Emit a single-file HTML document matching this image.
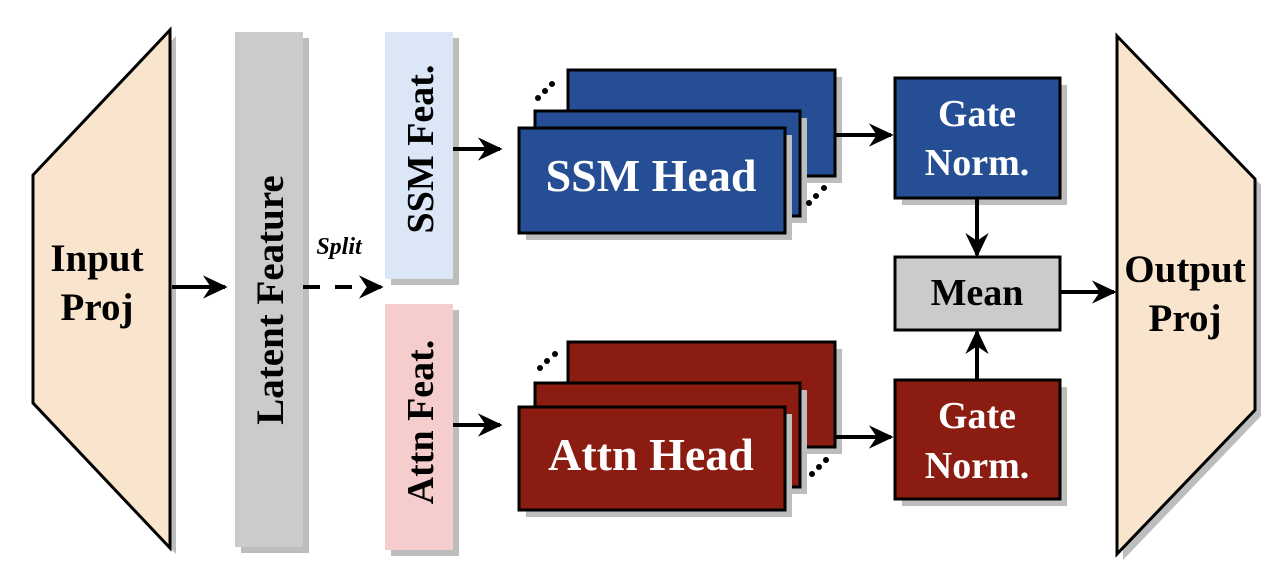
<!DOCTYPE html>
<html><head><meta charset="utf-8"><style>
html,body{margin:0;padding:0;background:#fff;}
svg{display:block;}
text{font-family:"Liberation Serif",serif;font-weight:bold;}
</style></head><body>
<svg width="1278" height="584" viewBox="0 0 1278 584" xmlns="http://www.w3.org/2000/svg">
<defs>
<marker id="ah" viewBox="0 0 20 20" refX="17" refY="10" markerWidth="26" markerHeight="26" markerUnits="userSpaceOnUse" orient="auto">
<path d="M0,1 L19,10 L0,19 L6,10 Z" fill="#000"/>
</marker>
</defs>
<!-- Input Proj -->
<polygon points="39,181 176,36 176,554 39,409" fill="#bdbdbd"/>
<polygon points="33,175 170,30 170,548 33,403" fill="#f9e5cd" stroke="#000" stroke-width="3" stroke-linejoin="miter"/>
<text x="97" y="271" font-size="39" text-anchor="middle">Input</text>
<text x="97" y="320" font-size="39" text-anchor="middle">Proj</text>
<!-- Latent -->
<rect x="241" y="38" width="68" height="515" fill="#bdbdbd"/>
<rect x="235" y="32" width="68" height="515" fill="#cbcbcb"/>
<text transform="translate(283,300) rotate(-90)" font-size="39" text-anchor="middle">Latent Feature</text>
<!-- arrow input->latent -->
<line x1="172" y1="287" x2="225" y2="287" stroke="#000" stroke-width="4" marker-end="url(#ah)"/>
<!-- split -->
<line x1="303" y1="287" x2="381" y2="287" stroke="#000" stroke-width="4" stroke-dasharray="17,15" marker-end="url(#ah)"/>
<text x="339" y="254" font-size="24" font-style="italic" text-anchor="middle">Split</text>
<!-- SSM Feat -->
<rect x="391" y="38" width="68" height="247" fill="#bdbdbd"/>
<rect x="385" y="32" width="68" height="247" fill="#dbe6f7"/>
<text transform="translate(433,149) rotate(-90)" font-size="38" text-anchor="middle">SSM Feat.</text>
<!-- Attn Feat -->
<rect x="391" y="310" width="68" height="246" fill="#bdbdbd"/>
<rect x="385" y="304" width="68" height="246" fill="#f5cdcc"/>
<text transform="translate(433,422) rotate(-90)" font-size="38" text-anchor="middle">Attn Feat.</text>
<!-- arrows to heads -->
<line x1="453" y1="149" x2="500" y2="149" stroke="#000" stroke-width="4" marker-end="url(#ah)"/>
<line x1="453" y1="425" x2="500" y2="425" stroke="#000" stroke-width="4" marker-end="url(#ah)"/>
<!-- SSM heads -->
<g stroke="#000" stroke-width="3">
<rect x="575" y="77" width="267" height="106" fill="#bdbdbd" stroke="none"/>
<rect x="568" y="70" width="267" height="106" fill="#254e94"/>
<rect x="542" y="118" width="265" height="105" fill="#bdbdbd" stroke="none"/>
<rect x="535" y="111" width="265" height="105" fill="#254e94"/>
<rect x="526" y="135" width="266" height="105" fill="#bdbdbd" stroke="none"/>
<rect x="519" y="128" width="266" height="105" fill="#254e94"/>
</g>
<text x="651" y="191" font-size="46" fill="#fff" text-anchor="middle">SSM Head</text>
<g fill="#000"><circle cx="538" cy="98" r="3"/><circle cx="545" cy="91" r="3"/><circle cx="552" cy="84" r="3"/>
<circle cx="809" cy="203" r="3"/><circle cx="816" cy="196" r="3"/><circle cx="824" cy="188" r="3"/></g>
<!-- Attn heads -->
<g stroke="#000" stroke-width="3">
<rect x="575" y="349" width="267" height="105" fill="#bdbdbd" stroke="none"/>
<rect x="568" y="342" width="267" height="105" fill="#8b1c12"/>
<rect x="542" y="390" width="265" height="104" fill="#bdbdbd" stroke="none"/>
<rect x="535" y="383" width="265" height="104" fill="#8b1c12"/>
<rect x="526" y="414" width="266" height="103" fill="#bdbdbd" stroke="none"/>
<rect x="519" y="407" width="266" height="103" fill="#8b1c12"/>
</g>
<text x="651" y="470" font-size="46" fill="#fff" text-anchor="middle">Attn Head</text>
<g fill="#000"><circle cx="540" cy="368" r="3"/><circle cx="547" cy="361" r="3"/><circle cx="555" cy="354" r="3"/>
<circle cx="812" cy="474" r="3"/><circle cx="819" cy="467" r="3"/><circle cx="826" cy="460" r="3"/></g>
<!-- arrows to gates -->
<line x1="835" y1="135" x2="891" y2="135" stroke="#000" stroke-width="4" marker-end="url(#ah)"/>
<line x1="835" y1="437" x2="891" y2="437" stroke="#000" stroke-width="4" marker-end="url(#ah)"/>
<!-- Gate SSM -->
<rect x="902" y="85" width="165" height="120" fill="#bdbdbd"/>
<rect x="895" y="78" width="165" height="120" fill="#254e94" stroke="#000" stroke-width="3"/>
<text x="977" y="126" font-size="38" fill="#fff" text-anchor="middle">Gate</text>
<text x="977" y="175" font-size="38" fill="#fff" text-anchor="middle">Norm.</text>
<!-- Mean -->
<rect x="895" y="257" width="165" height="73" fill="#cbcbcb" stroke="#000" stroke-width="3"/>
<text x="977" y="305" font-size="38" text-anchor="middle">Mean</text>
<!-- Gate attn -->
<rect x="902" y="387" width="165" height="119" fill="#bdbdbd"/>
<rect x="895" y="380" width="165" height="119" fill="#8b1c12" stroke="#000" stroke-width="3"/>
<text x="977" y="428" font-size="38" fill="#fff" text-anchor="middle">Gate</text>
<text x="977" y="478" font-size="38" fill="#fff" text-anchor="middle">Norm.</text>
<!-- vertical arrows -->
<line x1="977" y1="198" x2="977" y2="255" stroke="#000" stroke-width="4" marker-end="url(#ah)"/>
<line x1="977" y1="380" x2="977" y2="332" stroke="#000" stroke-width="4" marker-end="url(#ah)"/>
<!-- mean -> output -->
<line x1="1060" y1="292" x2="1114" y2="292" stroke="#000" stroke-width="4" marker-end="url(#ah)"/>
<!-- Output Proj -->
<polygon points="1123,42 1261,185 1261,416 1123,560" fill="#bdbdbd"/>
<polygon points="1117,36 1255,179 1255,410 1117,554" fill="#f9e5cd" stroke="#000" stroke-width="3"/>
<text x="1185" y="282" font-size="39" text-anchor="middle">Output</text>
<text x="1185" y="331" font-size="39" text-anchor="middle">Proj</text>
</svg>
</body></html>
